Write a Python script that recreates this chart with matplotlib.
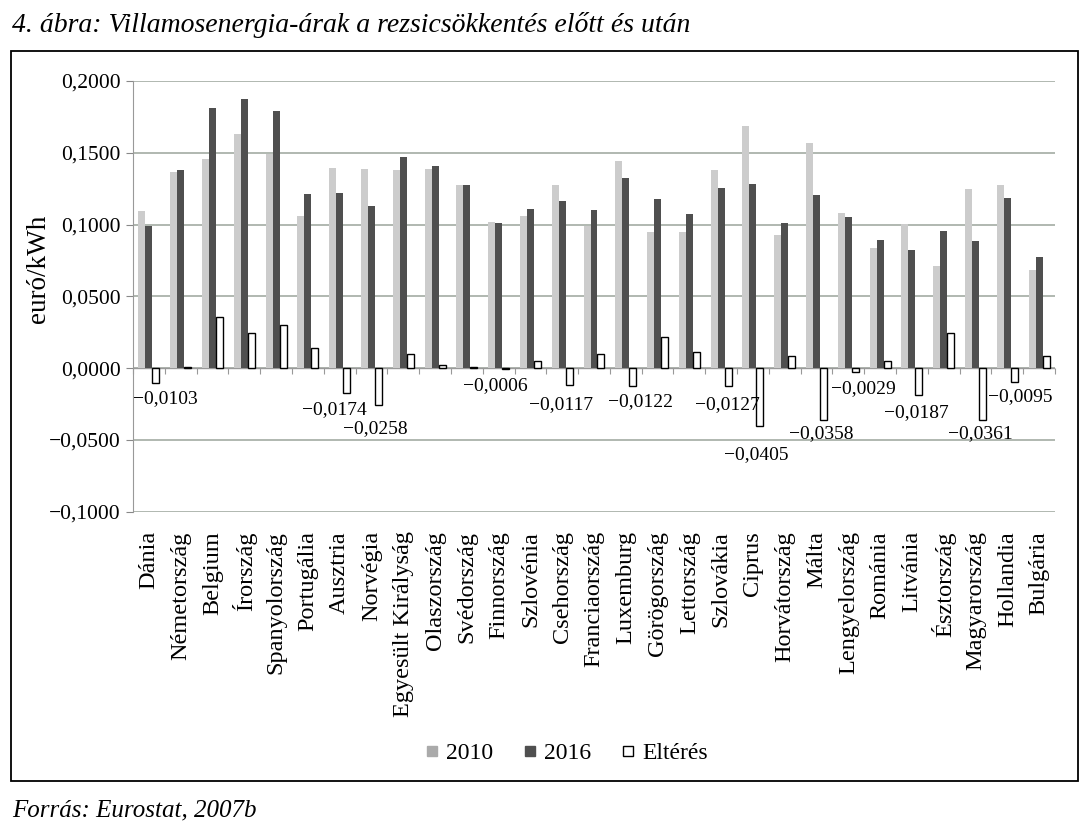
import numpy as np
import matplotlib
matplotlib.use("Agg")
import matplotlib.pyplot as plt
from matplotlib.patches import Rectangle
from matplotlib.lines import Line2D
from matplotlib.ticker import FuncFormatter, MultipleLocator

plt.rcParams['font.family'] = ['Liberation Serif', 'DejaVu Serif']

countries = ["Dánia", "Németország", "Belgium", "Írország", "Spanyolország",
             "Portugália", "Ausztria", "Norvégia", "Egyesült Királyság",
             "Olaszország", "Svédország", "Finnország", "Szlovénia",
             "Csehország", "Franciaország", "Luxemburg", "Görögország",
             "Lettország", "Szlovákia", "Ciprus", "Horvátország", "Málta",
             "Lengyelország", "Románia", "Litvánia", "Észtország",
             "Magyarország", "Hollandia", "Bulgária"]
v2010 = [0.1095, 0.1368, 0.1456, 0.1628, 0.1495, 0.1058, 0.1393, 0.1384,
         0.1379, 0.1386, 0.1278, 0.1019, 0.1058, 0.1278, 0.0988, 0.1444,
         0.0951, 0.0951, 0.1379, 0.1687, 0.0930, 0.1565, 0.1082, 0.0839,
         0.1007, 0.0708, 0.1245, 0.1278, 0.0685]
v2016 = [0.0992, 0.1377, 0.1815, 0.1874, 0.1792, 0.1210, 0.1219, 0.1126,
         0.1474, 0.1411, 0.1278, 0.1013, 0.1110, 0.1161, 0.1100, 0.1322,
         0.1178, 0.1072, 0.1252, 0.1282, 0.1012, 0.1207, 0.1053, 0.0890,
         0.0820, 0.0958, 0.0884, 0.1183, 0.0776]
elteres = [-0.0103, 0.0009, 0.0355, 0.0243, 0.0299, 0.0138, -0.0174, -0.0258,
           0.0096, 0.0019, 0.0006, -0.0006, 0.0047, -0.0117, 0.0100, -0.0122,
           0.0215, 0.0114, -0.0127, -0.0405, 0.0082, -0.0358, -0.0029, 0.0047,
           -0.0187, 0.0243, -0.0361, -0.0095, 0.0082]

# label nudges in pixels (dx, dy below bar end) for the negative bars
label_off = {0: (9, 16), 6: (-12, 16), 7: (-3, 23), 11: (-10, 17),
             13: (-8, 20), 15: (8, 16), 18: (-1, 18), 19: (-4, 28),
             21: (-2, 14), 22: (8, 16), 24: (-3, 18), 26: (-2, 14),
             27: (6, 15)}

W, H = 1089, 839
fig = plt.figure(figsize=(W / 100, H / 100), dpi=100)
ax = fig.add_axes([133 / W, 1 - 511.7 / H, (1055 - 133) / W, (511.7 - 81) / H])

x = np.arange(len(countries))
w = 0.22
ax.bar(x - w, v2010, w, color='#cccccc', zorder=3)
ax.bar(x, v2016, w, color='#4f4f4f', zorder=3)
ax.bar(x + w, elteres, w, color='white', edgecolor='black', linewidth=1, zorder=3)

def fmt(v, pos=None):
    s = "%.4f" % abs(v)
    s = s.replace(".", ",")
    if v < -1e-9:
        s = "\u2212" + s
    return s

for i, d in enumerate(elteres):
    if d < 0:
        dx, dy = label_off.get(i, (0, 16))
        ax.annotate(fmt(d), xy=(x[i] + w, d), xytext=(dx, -dy),
                    textcoords='offset pixels', ha='center', va='center',
                    fontsize=14, zorder=4)

ax.set_xlim(-0.5, len(countries) - 0.5)
ax.set_ylim(-0.1, 0.2)
ax.yaxis.set_major_locator(MultipleLocator(0.05))
ax.yaxis.set_major_formatter(FuncFormatter(fmt))
ax.grid(axis='y', color='#a3aca3', linewidth=1.2, zorder=0)
ax.set_xticks(x)
ax.set_xticklabels(countries, rotation=90, fontsize=17.5)
ax.tick_params(axis='x', length=0, pad=14)
ax.tick_params(axis='y', labelsize=15.5, length=5, color='#888888', pad=4)
for s in ['top', 'right', 'bottom']:
    ax.spines[s].set_visible(False)
ax.spines['left'].set_color('#999999')
ax.axhline(0, color='#999999', linewidth=1, zorder=2)

# category boundary ticks on the zero line
sec = ax.secondary_xaxis(1 / 3)
sec.set_xticks(np.arange(len(countries) + 1) - 0.5)
sec.set_xticklabels([])
sec.tick_params(length=4, color='#999999', direction='out')
sec.spines['bottom'].set_visible(False)

fig.text(38 / W, 1 - 269 / H, "euró/kWh", rotation=90, ha='center',
         va='center', fontsize=19.5)

handles = [Line2D([], [], marker='s', ls='', markersize=7, markerfacecolor='#aaaaaa', markeredgecolor='#aaaaaa'),
           Line2D([], [], marker='s', ls='', markersize=7, markerfacecolor='#4f4f4f', markeredgecolor='#4f4f4f'),
           Line2D([], [], marker='s', ls='', markersize=7, markerfacecolor='white', markeredgecolor='black')]
fig.legend(handles, ["2010", "2016", "Eltérés"], ncol=3, loc='center',
           bbox_to_anchor=(567 / W, 1 - 753 / H), frameon=False,
           fontsize=17, handlelength=0.5, handletextpad=0.35, columnspacing=1.3)

fig.patches.append(Rectangle((10.5 / W, 1 - 781.3 / H), (1078.3 - 10.5) / W,
                             (781.3 - 51.3) / H, transform=fig.transFigure,
                             fill=False, edgecolor='black', linewidth=1.3))

fig.text(12 / W, 1 - 25 / H,
         "4. ábra: Villamosenergia-árak a rezsicsökkentés előtt és után",
         style='italic', fontsize=20, va='center', ha='left')
fig.text(12 / W, 1 - 810 / H, "Forrás: Eurostat, 2007b",
         style='italic', fontsize=18, va='center', ha='left')

fig.savefig("out.png", dpi=100)
